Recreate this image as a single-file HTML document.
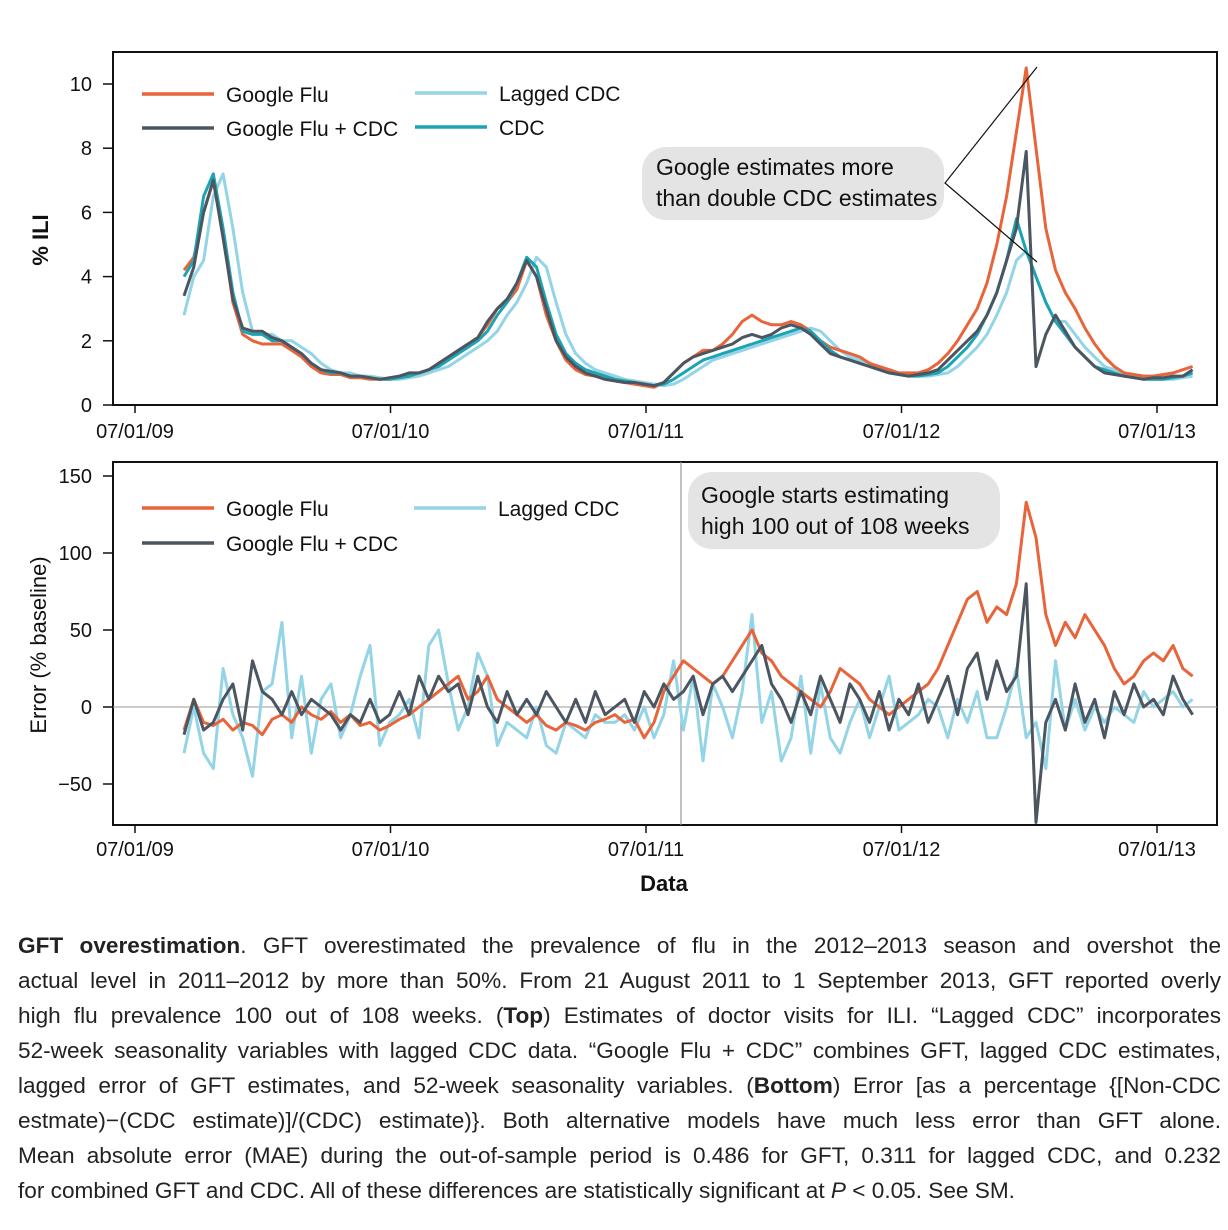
<!DOCTYPE html>
<html><head><meta charset="utf-8">
<style>
body{margin:0;background:#fff;width:1228px;height:1230px;overflow:hidden;font-family:"Liberation Sans",sans-serif;}
#cap{position:absolute;left:18px;top:928px;width:1203px;font-size:22.6px;color:#222;}
#cap div{height:35px;line-height:35px;white-space:nowrap;text-align:justify;text-align-last:justify;}
</style></head><body>
<svg id="chart" width="1228" height="915" style="position:absolute;left:0;top:0" font-family="Liberation Sans, sans-serif"></svg>
<div id="cap">
<div><b>GFT overestimation</b>. GFT overestimated the prevalence of flu in the 2012–2013 season and overshot the</div>
<div>actual level in 2011–2012 by more than 50%. From 21 August 2011 to 1 September 2013, GFT reported overly</div>
<div>high flu prevalence 100 out of 108 weeks. (<b>Top</b>) Estimates of doctor visits for ILI. “Lagged CDC” incorporates</div>
<div>52-week seasonality variables with lagged CDC data. “Google Flu + CDC” combines GFT, lagged CDC estimates,</div>
<div>lagged error of GFT estimates, and 52-week seasonality variables. (<b>Bottom</b>) Error [as a percentage {[Non-CDC</div>
<div>estmate)−(CDC estimate)]/(CDC) estimate)}. Both alternative models have much less error than GFT alone.</div>
<div>Mean absolute error (MAE) during the out-of-sample period is 0.486 for GFT, 0.311 for lagged CDC, and 0.232</div>
<div style="text-align-last:left">for combined GFT and CDC. All of these differences are statistically significant at <i>P</i> &lt; 0.05. See SM.</div>
</div>
<script>
const weekStart=10, weekStep=2;
const xTickLabels=["07/01/09","07/01/10","07/01/11","07/01/12","07/01/13"];
const topTicks=[0,2,4,6,8,10];
const botTicks=[-50,0,50,100,150];
const cdc=[4.0,4.5,6.5,7.2,5.5,3.5,2.3,2.2,2.2,2.0,
2.0,1.8,1.6,1.3,1.1,1.0,1.0,0.9,0.9,0.85,
0.8,0.8,0.85,0.9,1.0,1.1,1.2,1.4,1.6,1.8,
2.0,2.3,2.8,3.2,3.8,4.6,4.3,3.2,2.2,1.6,
1.3,1.1,1.0,0.9,0.8,0.75,0.7,0.65,0.6,0.65,
0.8,1.0,1.2,1.4,1.5,1.6,1.7,1.8,1.9,2.0,
2.1,2.2,2.3,2.4,2.3,2.0,1.7,1.5,1.4,1.3,
1.2,1.1,1.0,0.95,0.9,0.9,0.95,1.0,1.2,1.5,
1.8,2.2,2.8,3.5,4.5,5.8,4.8,4.0,3.2,2.6,
2.2,1.8,1.5,1.2,1.1,1.0,0.9,0.85,0.8,0.8,
0.8,0.85,0.9,1.0];
const googleFlu=[4.2,4.6,6.0,7.0,5.3,3.2,2.2,2.0,1.9,1.9,
1.9,1.7,1.5,1.2,1.0,0.95,0.95,0.85,0.85,0.8,
0.8,0.8,0.85,0.9,1.0,1.1,1.3,1.5,1.7,1.9,
2.1,2.5,3.0,3.2,3.6,4.5,4.0,2.8,2.0,1.4,
1.1,0.95,0.9,0.8,0.75,0.7,0.65,0.6,0.55,0.7,
1.0,1.3,1.5,1.7,1.7,1.9,2.2,2.6,2.8,2.6,
2.5,2.5,2.6,2.5,2.3,2.0,1.8,1.7,1.6,1.5,
1.3,1.2,1.1,1.0,1.0,1.0,1.1,1.3,1.6,2.0,
2.5,3.0,3.8,5.0,6.5,8.5,10.5,8.0,5.5,4.2,
3.5,3.0,2.4,1.9,1.5,1.2,1.0,0.95,0.9,0.9,
0.95,1.0,1.1,1.2];
const googleCdc=[3.4,4.3,6.0,7.0,5.2,3.3,2.4,2.3,2.3,2.1,
2.0,1.8,1.6,1.3,1.1,1.05,1.0,0.9,0.9,0.85,
0.8,0.85,0.9,1.0,1.0,1.1,1.3,1.5,1.7,1.9,
2.1,2.6,3.0,3.3,3.8,4.5,4.0,3.0,2.0,1.5,
1.2,1.0,0.9,0.8,0.75,0.7,0.7,0.65,0.6,0.7,
1.0,1.3,1.5,1.6,1.7,1.8,1.9,2.1,2.2,2.1,
2.2,2.4,2.5,2.4,2.2,1.9,1.6,1.5,1.4,1.3,
1.2,1.1,1.0,0.95,0.9,0.95,1.0,1.1,1.4,1.7,
2.0,2.3,2.8,3.5,4.5,5.5,7.9,1.2,2.2,2.8,
2.3,1.8,1.5,1.2,1.0,0.95,0.9,0.85,0.8,0.85,
0.85,0.9,0.9,1.1];
const laggedCdc=[2.8,4.0,4.5,6.5,7.2,5.5,3.5,2.3,2.2,2.2,
2.0,2.0,1.8,1.6,1.3,1.1,1.0,1.0,0.9,0.9,
0.85,0.8,0.8,0.85,0.9,1.0,1.1,1.2,1.4,1.6,
1.8,2.0,2.3,2.8,3.2,3.8,4.6,4.3,3.2,2.2,
1.6,1.3,1.1,1.0,0.9,0.8,0.75,0.7,0.65,0.6,
0.65,0.8,1.0,1.2,1.4,1.5,1.6,1.7,1.8,1.9,
2.0,2.1,2.2,2.3,2.4,2.3,2.0,1.7,1.5,1.4,
1.3,1.2,1.1,1.0,0.95,0.9,0.9,0.95,1.0,1.2,
1.5,1.8,2.2,2.8,3.5,4.5,4.8,4.0,3.2,2.6,
2.6,2.2,1.8,1.5,1.2,1.1,1.0,0.9,0.85,0.8,
0.8,0.8,0.85,0.9];
const errGoogle=[-15,5,-10,-12,-8,-15,-10,-12,-18,-8,
-5,-10,0,-5,-8,-3,-10,-5,-12,-10,
-15,-12,-8,-5,0,5,10,15,20,5,
10,20,5,0,-5,-10,-5,-12,-15,-10,
-12,-15,-10,-8,-5,-10,-8,-20,-10,10,
20,30,25,20,15,20,30,40,50,35,
30,20,15,10,5,0,10,25,20,15,
5,0,-5,0,5,10,15,25,40,55,
70,75,55,65,60,80,133,110,60,40,
55,45,60,50,40,25,15,20,30,35,
30,40,25,20];
const errGoogleCdc=[-18,5,-15,-10,5,15,-15,30,10,5,
-5,10,-5,5,0,-5,-15,-5,-10,5,
-10,-5,10,-5,20,5,20,10,15,-5,
20,0,-10,10,-5,5,-5,10,0,-10,
5,-10,10,-5,0,5,-10,10,0,15,
5,10,20,-5,15,20,10,20,30,40,
15,5,-10,10,-5,20,5,-10,15,5,
-10,10,-15,5,-5,15,-10,5,20,-5,
25,35,5,30,10,20,80,-75,-10,5,
-15,15,-10,5,-20,10,-5,15,0,5,
-5,20,5,-5];
const errLagged=[-30,0,-30,-40,25,-5,-20,-45,10,15,
55,-20,20,-30,5,15,-20,-5,20,40,
-25,-10,-5,5,-20,40,50,15,-15,0,
35,20,-25,-10,-15,-20,0,-25,-30,-10,
-15,-20,-5,-10,-10,-5,-15,0,-20,-5,
30,-15,20,-35,15,0,-20,10,60,-10,
10,-35,-20,20,-30,15,-20,-30,-10,5,
-20,0,20,-15,-10,-5,5,0,-20,5,
-10,10,-20,-20,0,25,-20,-10,-40,30,
-15,5,-15,0,-10,0,-5,-10,10,0,
5,10,0,5];

const svg=document.getElementById('chart');
const NS='http://www.w3.org/2000/svg';
function mk(tag,attrs,parent){const e=document.createElementNS(NS,tag);for(const k in attrs)e.setAttribute(k,attrs[k]);(parent||svg).appendChild(e);return e;}
function txt(s,x,y,size,anchor,parent){const t=mk('text',{x:x,y:y,'font-size':size,'text-anchor':anchor||'start',fill:'#111'},parent);t.textContent=s;return t;}
const xW=w=>135+w*(255.5/52.18);
const yTop=v=>405-v*32.1;
const yBot=v=>707-v*1.54;
const COL={g:'#e8643a',gc:'#4b5661',lag:'#93d4e6',cdc:'#1ba4b4'};

function panel(name,top,bottom,yf,ticks,tickLabelsY){
  const g=mk('g',{});
  
  
  const r=mk('rect',{x:113,y:top,width:1104,height:bottom-top,fill:'none',stroke:'#111','stroke-width':2},g);
  
  
  ticks.forEach(v=>{
    const y=yf(v);
    mk('line',{x1:103,x2:113,y1:y,y2:y,stroke:'#111','stroke-width':1.5},g);
    const t=txt(String(v).replace('-','−'),92,y+7,20,'end',g);
    
    
  });
  xTickLabels.forEach((s,i)=>{
    const x=xW(i*52.18);
    mk('line',{x1:x,x2:x,y1:bottom,y2:bottom+8,stroke:'#111','stroke-width':1.5},g);
    const t=txt(s,x,bottom+(name==='top-panel'?33:31),20,'middle',g);
    
    
  });
  return g;
}
function series(arr,yf,color,width,name){
  const pts=arr.map((v,i)=>xW(weekStart+i*weekStep).toFixed(1)+','+yf(v).toFixed(1)).join(' ');
  const p=mk('polyline',{points:pts,fill:'none',stroke:color,'stroke-width':width,'stroke-linejoin':'round'});
  
  
}
function legend(items){
  items.forEach(it=>{
    const l=mk('line',{x1:it.x,x2:it.x+72,y1:it.y,y2:it.y,stroke:it.c,'stroke-width':3.5});
    
    
    const t=txt(it.t,it.x+84,it.y+8,21,'start');
    
    
  });
}

// top panel
panel('top-panel',52,405,yTop,topTicks);
const yl=txt('% ILI',0,0,22,'middle');
yl.setAttribute('transform','translate(48,240) rotate(-90)');
yl.setAttribute('font-weight','bold');


series(laggedCdc,yTop,COL.lag,3,'lagged-cdc-line');
series(googleFlu,yTop,COL.g,3,'google-flu-line');
series(cdc,yTop,COL.cdc,3,'cdc-line');
series(googleCdc,yTop,COL.gc,3,'google-flu-cdc-line');
legend([{x:142,y:94,c:COL.g,t:'Google Flu'},{x:142,y:128,c:COL.gc,t:'Google Flu + CDC'},{x:415,y:93,c:COL.lag,t:'Lagged CDC'},{x:415,y:127,c:COL.cdc,t:'CDC'}]);
const b1=mk('g',{});


mk('rect',{x:642,y:147,width:302,height:73,rx:24,fill:'#e4e4e4'},b1);
mk('polyline',{points:'1037,67 945,183 1037,262',fill:'none',stroke:'#111','stroke-width':1.2},b1);
txt('Google estimates more',656,175,23,'start',b1);
txt('than double CDC estimates',656,206,23,'start',b1);

// bottom panel
panel('bottom-panel',462,825,yBot,botTicks);
const zl=mk('line',{x1:113,x2:1217,y1:yBot(0),y2:yBot(0),stroke:'#999','stroke-width':1});


const vl=mk('line',{x1:681,x2:681,y1:462,y2:825,stroke:'#999','stroke-width':1.2});


const yl2=txt('Error (% baseline)',0,0,22,'middle');
yl2.setAttribute('transform','translate(46,645) rotate(-90)');


const xl=txt('Data',664,891,22,'middle');
xl.setAttribute('font-weight','bold');


series(errLagged,yBot,COL.lag,3,'lagged-cdc-error-line');
series(errGoogle,yBot,COL.g,3,'google-flu-error-line');
series(errGoogleCdc,yBot,COL.gc,3,'google-flu-cdc-error-line');
legend([{x:142,y:508,c:COL.g,t:'Google Flu'},{x:142,y:543,c:COL.gc,t:'Google Flu + CDC'},{x:414,y:508,c:COL.lag,t:'Lagged CDC'}]);
const b2=mk('g',{});


mk('rect',{x:688,y:472,width:312,height:77,rx:24,fill:'#e4e4e4'},b2);
txt('Google starts estimating',701,503,23,'start',b2);
txt('high 100 out of 108 weeks',701,534,23,'start',b2);
</script>
</body></html>
